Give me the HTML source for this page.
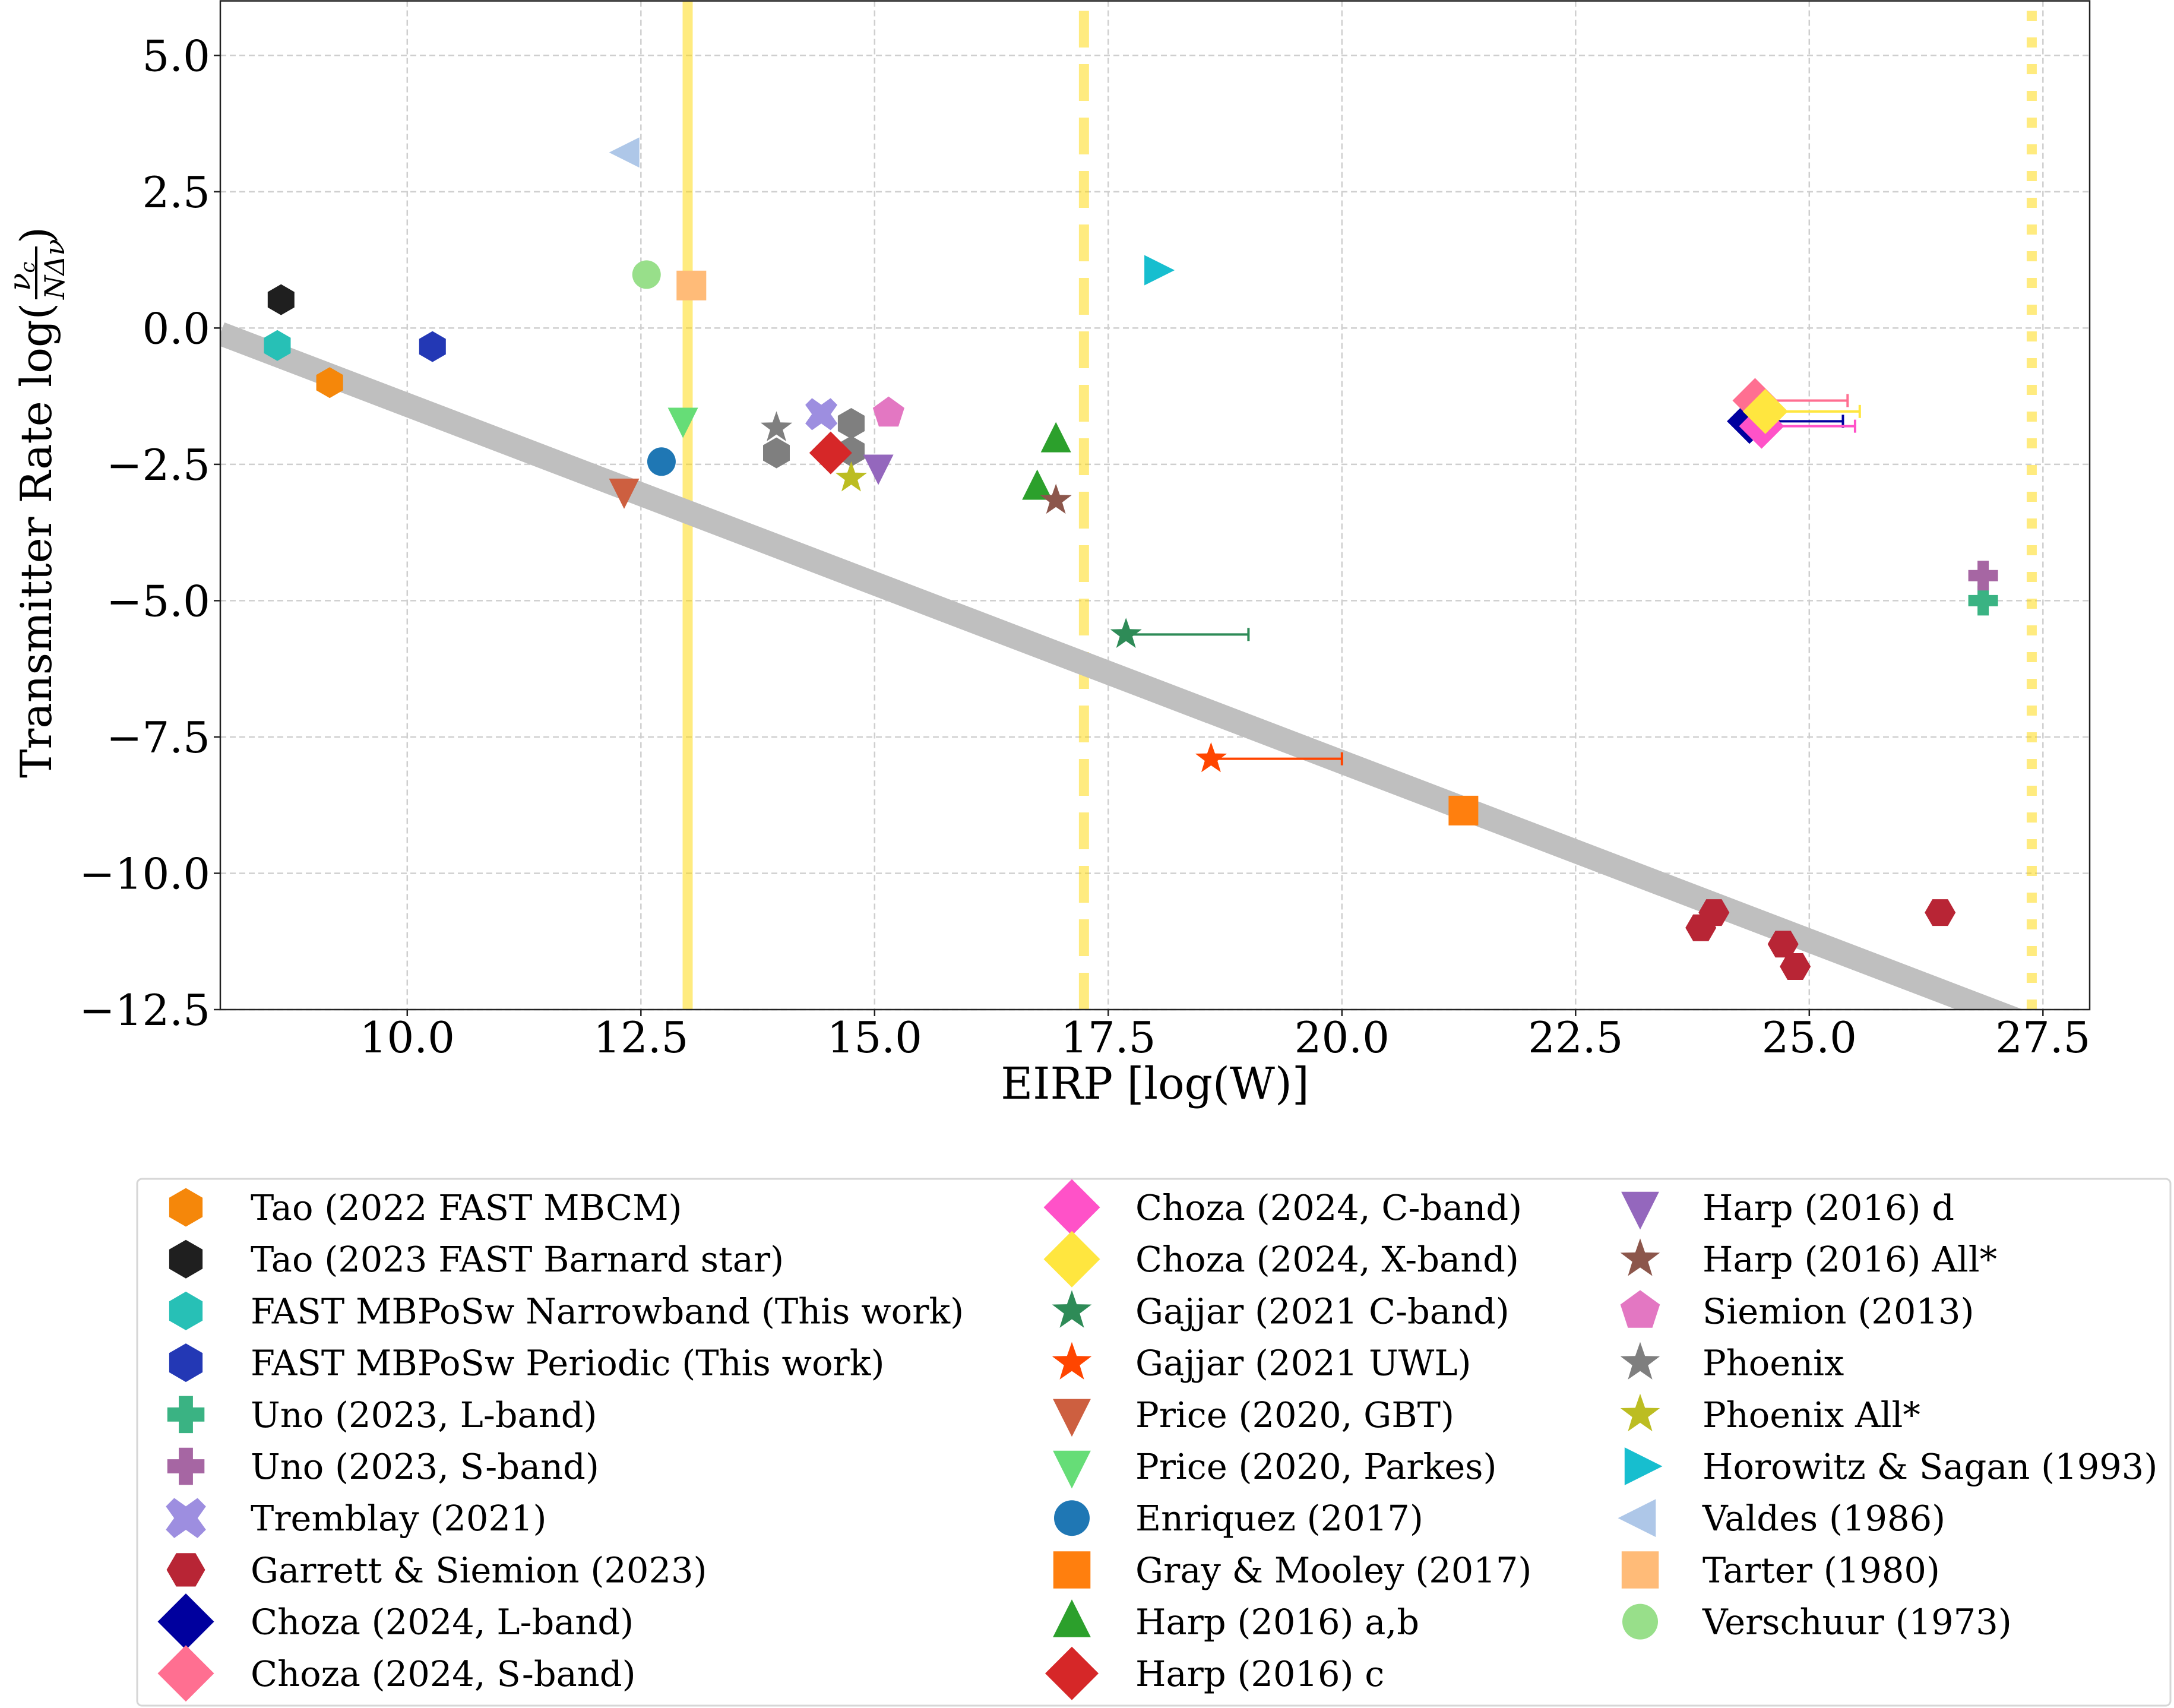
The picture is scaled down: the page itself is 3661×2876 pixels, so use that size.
<!DOCTYPE html>
<html><head><meta charset="utf-8"><style>
html,body{margin:0;padding:0;background:#fff;}
svg{display:block;font-family:"DejaVu Serif","Liberation Serif",serif;}
</style></head><body>
<svg id="chart" width="3661" height="2876" viewBox="0 0 3661 2876" xmlns="http://www.w3.org/2000/svg">
<rect width="3661" height="2876" fill="#fff"/>
<defs><clipPath id="plotclip"><rect x="371" y="1.5" width="3148" height="1698.5"/></clipPath></defs>
<g id="grid"></g>
<g id="bands" clip-path="url(#plotclip)"></g>
<g id="marks" clip-path="url(#plotclip)"></g>
<g id="axes"></g>
<g id="legend"></g>
</svg>
<script>
// ---- data ----
const xTicks = [10.0, 12.5, 15.0, 17.5, 20.0, 22.5, 25.0, 27.5];
const yTicks = [-12.5, -10.0, -7.5, -5.0, -2.5, 0.0, 2.5, 5.0];
const xTickLabels = ["10.0","12.5","15.0","17.5","20.0","22.5","25.0","27.5"];
const yTickLabels = ["\u221212.5","\u221210.0","\u22127.5","\u22125.0","\u22122.5","0.0","2.5","5.0"];
const seriesNames = ["Tao (2022 FAST MBCM)","Tao (2023 FAST Barnard star)","FAST MBPoSw Narrowband (This work)","FAST MBPoSw Periodic (This work)","Uno (2023, L-band)","Uno (2023, S-band)","Tremblay (2021)","Garrett & Siemion (2023)","Choza (2024, L-band)","Choza (2024, S-band)","Choza (2024, C-band)","Choza (2024, X-band)","Gajjar (2021 C-band)","Gajjar (2021 UWL)","Price (2020, GBT)","Price (2020, Parkes)","Enriquez (2017)","Gray & Mooley (2017)","Harp (2016) a,b","Harp (2016) c","Harp (2016) d","Harp (2016) All*","Siemion (2013)","Phoenix","Phoenix All*","Horowitz & Sagan (1993)","Valdes (1986)","Tarter (1980)","Verschuur (1973)"];
const seriesX = [[9.17],[8.65],[8.61],[10.27],[26.86],[26.86],[14.43],[23.84,23.98,24.72,24.85,26.4],[24.36],[24.42],[24.49],[24.53],[17.69],[18.6],[12.32],[12.95],[12.72],[21.3],[16.94,16.74],[14.53],[15.04],[16.94],[15.15],[13.95],[14.75],[18.02],[12.35],[13.04],[12.56]];
const seriesY = [[-1.0],[0.52],[-0.32],[-0.34],[-5.0],[-4.54],[-1.58],[-11.0,-10.72,-11.3,-11.71,-10.72],[-1.71],[-1.33],[-1.80],[-1.53],[-5.62],[-7.9],[-2.99],[-1.69],[-2.45],[-8.85],[-2.05,-2.92],[-2.29],[-2.55],[-3.16],[-1.56],[-1.83],[-2.75],[1.06],[3.22],[0.78],[0.98]];
const seriesXHi = [null,null,null,null,null,null,null,null,[25.36],[25.41],[25.49],[25.54],[19.0],[20.0],null,null,null,null,null,null,null,null,null,null,null,null,null,null,null];
// unlabeled phoenix hexagons
const phoenixHexX = [13.95, 14.75, 14.75];
const phoenixHexY = [-2.29, -1.75, -2.26];
// trend band
const trendX = [8, 28];
const trendSlope = -0.655;
const trendAt20 = -7.96;
// vertical limit lines
const vlineX = [13.0, 17.24, 27.38];

// ---- styles (not data) ----
const styles = [
 ["#F5870A","h",26],["#1f1f1f","h",26],["#27C0B6","h",26],["#2338B5","h",26],
 ["#3AB383","P",25],["#A666A3","P",25],["#9D8EE0","X",27],["#B82535","H",26],
 ["#00009E","D",38],["#FF6F91","D",38],["#FF52C8","D",38],["#FFE63F","D",38],
 ["#2E8B57","*",28],["#FF4500","*",28],["#CD5F40","v",30],["#66DD77","v",30],
 ["#1f77b4","o",24],["#ff7f0e","s",25],["#2ca02c","^",30],["#d62728","D",36],
 ["#9467bd","v",30],["#8c564b","*",28],["#e377c2","p",28],["#7f7f7f","*",28],
 ["#bcbd22","*",28],["#17becf",">",30],["#aec7e8","<",30],["#ffbb78","s",25],["#98df8a","o",24]
];
const L=371,R=3519,T=1.5,B=1700;
const X0=8,X1=28,Y0=-12.5,Y1=6;
function sx(v){return L+(v-X0)/(X1-X0)*(R-L);}
function sy(v){return B-(v-Y0)/(Y1-Y0)*(B-T);}
const NS="http://www.w3.org/2000/svg";
function mk(tag,attrs,parent){const e=document.createElementNS(NS,tag);for(const k in attrs)e.setAttribute(k,attrs[k]);if(parent)parent.appendChild(e);return e;}
function poly(pts){return "M"+pts.map(p=>p[0].toFixed(1)+","+p[1].toFixed(1)).join("L")+"Z";}
function markerPath(m,cx,cy,r){
 const P=[];
 if(m==="h"||m==="H"){const off=m==="h"?90:0;for(let k=0;k<6;k++){const a=(off+60*k)*Math.PI/180;P.push([cx+r*Math.cos(a),cy-r*Math.sin(a)]);}return poly(P);}
 if(m==="D"){return poly([[cx,cy-r],[cx+r,cy],[cx,cy+r],[cx-r,cy]]);}
 if(m==="s"){return poly([[cx-r,cy-r],[cx+r,cy-r],[cx+r,cy+r],[cx-r,cy+r]]);}
 if(m==="*"){for(let k=0;k<10;k++){const rr=k%2?r*0.4:r;const a=(90+36*k)*Math.PI/180;P.push([cx+rr*Math.cos(a),cy-rr*Math.sin(a)]);}return poly(P);}
 if(m==="p"){for(let k=0;k<5;k++){const a=(90+72*k)*Math.PI/180;P.push([cx+r*Math.cos(a),cy-r*Math.sin(a)]);}return poly(P);}
 if(m==="^"){return poly([[cx,cy-r],[cx+r*0.85,cy+r*0.7],[cx-r*0.85,cy+r*0.7]]);}
 if(m==="v"){return poly([[cx,cy+r],[cx+r*0.85,cy-r*0.7],[cx-r*0.85,cy-r*0.7]]);}
 if(m===">"){return poly([[cx+r,cy],[cx-r*0.7,cy-r*0.85],[cx-r*0.7,cy+r*0.85]]);}
 if(m==="<"){return poly([[cx-r,cy],[cx+r*0.7,cy-r*0.85],[cx+r*0.7,cy+r*0.85]]);}
 if(m==="P"){const a=r*0.38;return poly([[cx-a,cy-r],[cx+a,cy-r],[cx+a,cy-a],[cx+r,cy-a],[cx+r,cy+a],[cx+a,cy+a],[cx+a,cy+r],[cx-a,cy+r],[cx-a,cy+a],[cx-r,cy+a],[cx-r,cy-a],[cx-a,cy-a]]);}
 if(m==="X"){const a=r*0.42,b=r;
   return poly([[cx,cy-a*1.4],[cx+b-a,cy-b],[cx+b,cy-b+a],[cx+a*1.4,cy],[cx+b,cy+b-a],[cx+b-a,cy+b],[cx,cy+a*1.4],[cx-b+a,cy+b],[cx-b,cy+b-a],[cx-a*1.4,cy],[cx-b,cy-b+a],[cx-b+a,cy-b]]);}
 return null;
}
function drawMarker(parent,m,cx,cy,r,color){
 if(m==="o") return mk("circle",{cx:cx,cy:cy,r:r,fill:color},parent);
 return mk("path",{d:markerPath(m,cx,cy,r),fill:color},parent);
}
// grid
const grid=document.getElementById("grid");
xTicks.forEach(v=>{const g=mk("line",{x1:sx(v),x2:sx(v),y1:T,y2:B,stroke:"#cfcfcf","stroke-width":2.5,"stroke-dasharray":"10,6"},grid);

});
yTicks.forEach(v=>{const g=mk("line",{x1:L,x2:R,y1:sy(v),y2:sy(v),stroke:"#cfcfcf","stroke-width":2.5,"stroke-dasharray":"10,6"},grid);

});
// bands
const bands=document.getElementById("bands");
const dashes=[null,"62,28","17,28"];
vlineX.forEach((v,i)=>{const a={x1:sx(v),x2:sx(v),y1:B,y2:T,stroke:"#FFD700","stroke-opacity":0.5,"stroke-width":17};if(dashes[i])a["stroke-dasharray"]=dashes[i];
const l=mk("line",a,bands);

});
const tl=mk("line",{x1:sx(trendX[0]),y1:sy(trendAt20+trendSlope*(trendX[0]-20)),x2:sx(trendX[1]),y2:sy(trendAt20+trendSlope*(trendX[1]-20)),stroke:"#bfbfbf","stroke-width":40},bands);


// marks
const marks=document.getElementById("marks");
phoenixHexX.forEach((v,i)=>{const e=drawMarker(marks,"h",sx(v),sy(phoenixHexY[i]),26,"#7f7f7f");

});
seriesNames.forEach((name,s)=>{
 const st=styles[s];
 seriesX[s].forEach((v,i)=>{
  const cx=sx(v),cy=sy(seriesY[s][i]);
  if(seriesXHi[s]){const x2=sx(seriesXHi[s][i]);
   const eb=mk("line",{x1:cx,x2:x2,y1:cy,y2:cy,stroke:st[0],"stroke-width":4},marks);
   
   
   const cap=mk("line",{x1:x2,x2:x2,y1:cy-11,y2:cy+11,stroke:st[0],"stroke-width":4},marks);
   
   }
  const e=drawMarker(marks,st[1],cx,cy,st[2],st[0]);
  
  
 });
});
// axes
const axes=document.getElementById("axes");
mk("rect",{x:L,y:T,width:R-L,height:B-T,fill:"none",stroke:"#222","stroke-width":2.5},axes);
xTicks.forEach((v,i)=>{mk("line",{x1:sx(v),x2:sx(v),y1:B,y2:B+11,stroke:"#222","stroke-width":2.5},axes);
 const t=mk("text",{x:sx(v),y:1772,"text-anchor":"middle","font-size":72,fill:"#000"},axes);t.textContent=xTickLabels[i];
 
 });
yTicks.forEach((v,i)=>{mk("line",{x1:L-11,x2:L,y1:sy(v),y2:sy(v),stroke:"#222","stroke-width":2.5},axes);
 const t=mk("text",{x:354,y:sy(v)+26,"text-anchor":"end","font-size":72,fill:"#000"},axes);t.textContent=yTickLabels[i];
 
 });
const xl=mk("text",{x:1945,y:1850,"text-anchor":"middle","font-size":74,fill:"#000"},axes);xl.textContent="EIRP [log(W)]";


const yg=mk("g",{transform:"translate(86,1310) rotate(-90)"},axes);


const y1=mk("text",{x:0,y:0,"font-size":72,fill:"#000",textLength:800,lengthAdjust:"spacingAndGlyphs"},yg);y1.textContent="Transmitter Rate log(";
const yn=mk("text",{x:820,y:-36,"font-size":50,"font-style":"italic",fill:"#000"},yg);yn.textContent="\u03bd";
const ync=mk("tspan",{"font-size":34,dy:8},yn);ync.textContent="c";
mk("line",{x1:806,x2:895,y1:-25,y2:-25,stroke:"#000","stroke-width":4},yg);
const yd=mk("text",{x:806,y:22,"font-size":46,"font-style":"italic",fill:"#000"},yg);yd.textContent="N\u0394\u03bd";
const yc=mk("text",{x:900,y:0,"font-size":72,fill:"#000"},yg);yc.textContent=")";
// legend
const lg=document.getElementById("legend");
mk("rect",{x:231,y:1985,width:3424,height:887,rx:8,fill:"#fff",stroke:"#d6d6d6","stroke-width":3},lg);
const colM=[313,1805,2762],colT=[422,1912,2867];
seriesNames.forEach((name,s)=>{
 const c=Math.floor(s/10),r=s%10;const cy=2033+r*87.2;
 const st=styles[s];
 const m=drawMarker(lg,st[1],colM[c],cy,st[2]*1.25,st[0]);
 
 
 const t=mk("text",{x:colT[c],y:cy+21,"font-size":59,fill:"#000"},lg);t.textContent=name;
 
 
});
</script>
</body></html>
